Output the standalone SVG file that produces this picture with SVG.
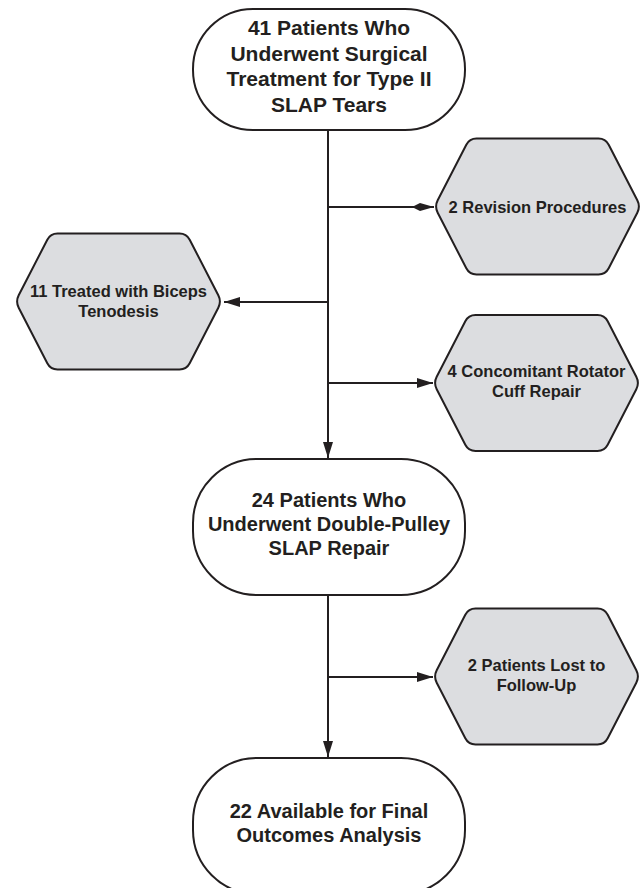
<svg xmlns="http://www.w3.org/2000/svg" width="642" height="888" viewBox="0 0 642 888">
<style>
  .term{fill:#ffffff;stroke:#231f20;stroke-width:2}
  .hex{fill:#dcdde0;stroke:#231f20;stroke-width:2}
  .conn{fill:none;stroke:#231f20;stroke-width:2}
  text{font-family:"Liberation Sans",Arial,Helvetica,sans-serif;font-weight:bold;fill:#231f20;text-anchor:middle}
  .big{font-size:21px}
  .mid{font-size:20px}
  .small{font-size:16.5px}
</style>
<defs>
  <path id="hexshape" d="M -99.8,6.2 Q -103,0 -99.8,-6.2 L -71.2,-61.8 Q -68,-68 -61,-68 L 61,-68 Q 68,-68 71.2,-61.8 L 99.8,-6.2 Q 103,0 99.8,6.2 L 71.2,61.8 Q 68,68 61,68 L -61,68 Q -68,68 -71.2,61.8 Z"/>
  <marker id="tri" markerUnits="userSpaceOnUse" markerWidth="16" markerHeight="10" refX="16" refY="5" orient="auto" viewBox="0 0 16 10">
    <path d="M0,0 L16,5 L0,10 Z" fill="#231f20"/>
  </marker>
  <marker id="dia" markerUnits="userSpaceOnUse" markerWidth="22" markerHeight="8" refX="22" refY="4" orient="auto" viewBox="0 0 22 8">
    <path d="M0,4 L8,0 L22,4 L8,8 Z" fill="#231f20"/>
  </marker>
</defs>

<g id="connectors">
  <line class="conn" x1="328" y1="130" x2="328" y2="458" marker-end="url(#tri)"/>
  <line class="conn" x1="328" y1="207" x2="434" y2="207" marker-end="url(#dia)"/>
  <line class="conn" x1="328" y1="302" x2="224" y2="302" marker-end="url(#tri)"/>
  <line class="conn" x1="328" y1="383" x2="433" y2="383" marker-end="url(#tri)"/>
  <line class="conn" x1="328" y1="595" x2="328" y2="757" marker-end="url(#tri)"/>
  <line class="conn" x1="328" y1="677" x2="433" y2="677" marker-end="url(#tri)"/>
</g>

<g id="node-41">
  <rect class="term" x="193" y="9" width="272" height="121" rx="60" ry="60"/>
  <text class="big" x="329" y="35">41 Patients Who</text>
  <text class="big" x="329" y="60.5">Underwent Surgical</text>
  <text class="big" x="329" y="86">Treatment for Type II</text>
  <text class="big" x="329" y="111.5">SLAP Tears</text>
</g>

<g id="node-revision">
  <use href="#hexshape" class="hex" transform="translate(537.5,206.5)"/>
  <text class="small" x="537.5" y="212.5">2 Revision Procedures</text>
</g>

<g id="node-biceps">
  <use href="#hexshape" class="hex" transform="translate(118.5,301.5)"/>
  <text class="small" x="118.5" y="297">11 Treated with Biceps</text>
  <text class="small" x="118.5" y="317">Tenodesis</text>
</g>

<g id="node-rotator">
  <use href="#hexshape" class="hex" transform="translate(536.5,383)"/>
  <text class="small" x="536.5" y="377">4 Concomitant Rotator</text>
  <text class="small" x="536.5" y="397">Cuff Repair</text>
</g>

<g id="node-24">
  <rect class="term" x="193" y="459" width="272" height="136" rx="64" ry="64"/>
  <text class="mid" x="329" y="507">24 Patients Who</text>
  <text class="mid" x="329" y="531">Underwent Double-Pulley</text>
  <text class="mid" x="329" y="555">SLAP Repair</text>
</g>

<g id="node-lost">
  <use href="#hexshape" class="hex" transform="translate(536.5,676.5)"/>
  <text class="small" x="536.5" y="670.5">2 Patients Lost to</text>
  <text class="small" x="536.5" y="690.5">Follow-Up</text>
</g>

<g id="node-22">
  <rect class="term" x="193" y="758" width="272" height="136" rx="64" ry="64"/>
  <text class="mid" x="329" y="818">22 Available for Final</text>
  <text class="mid" x="329" y="842">Outcomes Analysis</text>
</g>
</svg>
